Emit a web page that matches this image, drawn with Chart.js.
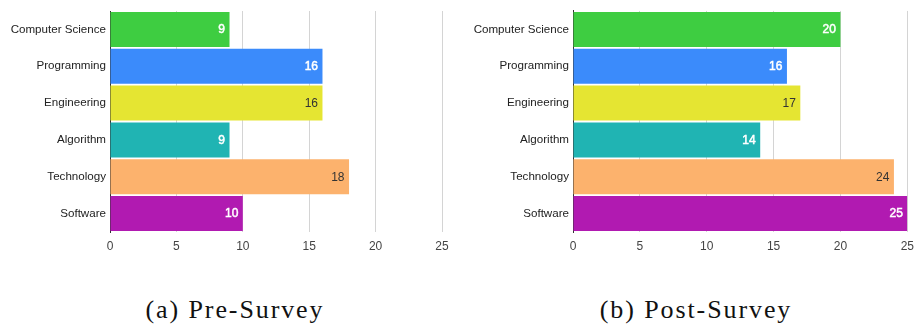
<!DOCTYPE html>
<html>
<head>
<meta charset="utf-8">
<script src="https://cdn.jsdelivr.net/npm/chart.js@4/dist/chart.umd.min.js"></script>
<style>
  html, body { margin: 0; padding: 0; background: #fff; }
  #wrap { position: relative; width: 915px; height: 331px; overflow: hidden; }
  .panel { position: absolute; top: 0; }
  .cap {
    position: absolute; top: 297px; width: 240px; text-align: center;
    font-family: "Liberation Serif", "Times New Roman", serif;
    font-size: 26px; line-height: 26px; color: #111; letter-spacing: 1.9px;
    white-space: nowrap;
  }
</style>
</head>
<body>
<div id="wrap">
  <div class="panel" style="left:0;width:460px;height:260px"><canvas id="pre" width="460" height="260"></canvas></div>
  <div class="panel" style="left:460px;width:455px;height:260px"><canvas id="post" width="455" height="260"></canvas></div>
  <div class="cap" style="left:115px">(a) Pre-Survey</div>
  <div class="cap" style="left:576px">(b) Post-Survey</div>
</div>
<script>
// Survey topics, one bar each
const categories = ['Computer Science', 'Programming', 'Engineering', 'Algorithm', 'Technology', 'Software'];
// Counts before and after
const preValues = [9, 16, 16, 9, 18, 10];
const postValues = [20, 16, 17, 14, 24, 25];
// Value axis ticks
const tickValues = [0, 5, 10, 15, 20, 25];

const barColors = ['#3ecd41', '#3b8bfb', '#e5e532', '#20b4b3', '#fcb26d', '#b11ab1'];
const labelColors = ['#ffffff', '#ffffff', '#333333', '#ffffff', '#333333', '#ffffff'];

// Writes each bar's value just inside its right end
const valueLabels = {
  id: 'valueLabels',
  afterDatasetsDraw(chart) {
    const ctx = chart.ctx;
    const ds = chart.data.datasets[0];
    const meta = chart.getDatasetMeta(0);
    ctx.save();
    ctx.font = '12px "Liberation Sans", Arial, sans-serif';
    ctx.textAlign = 'right';
    ctx.textBaseline = 'middle';
    ctx.lineWidth = 0.5;
    meta.data.forEach((bar, i) => {
      const txt = String(ds.data[i]);
      const x = bar.x - 4.5, y = bar.y + 0.5;
      ctx.fillStyle = labelColors[i];
      ctx.fillText(txt, x, y);
      if (labelColors[i] === '#ffffff') {
        // white text on strong colours gets a hairline to keep it legible
        ctx.strokeStyle = labelColors[i];
        ctx.strokeText(txt, x, y);
      }
    });
    ctx.restore();
  }
};

function makeChart(id, values, axisWidth, padTop, padRight) {
  return new Chart(document.getElementById(id), {
    type: 'bar',
    data: {
      labels: categories,
      datasets: [{
        data: values,
        backgroundColor: barColors,
        borderWidth: 0,
        barPercentage: 0.95,
        categoryPercentage: 1.0
      }]
    },
    options: {
      indexAxis: 'y',
      responsive: false,
      animation: false,
      devicePixelRatio: 1,
      layout: { padding: { top: padTop, right: padRight, left: 0, bottom: 0 } },
      plugins: { legend: { display: false }, tooltip: { enabled: false } },
      scales: {
        x: {
          min: 0,
          max: 25,
          afterBuildTicks(scale) { scale.ticks = tickValues.map(v => ({ value: v })); },
          afterFit(scale) { scale.height = 28; },
          grid: {
            drawTicks: true,
            tickLength: 7,
            tickColor: 'rgba(0,0,0,0)',
            color: c => (c.tick && c.tick.value === 0 ? '#333333' : '#d4d4d4'),
            lineWidth: 1
          },
          border: { display: false },
          ticks: {
            padding: 0,
            color: '#444444',
            font: { family: '"Liberation Sans", Arial, sans-serif', size: 12 }
          }
        },
        y: {
          afterFit(scale) { scale.width = axisWidth; },
          grid: { display: false, drawTicks: false },
          border: { display: true, color: '#333333', width: 1 },
          ticks: {
            padding: 4,
            color: '#222222',
            font: { family: '"Liberation Sans", Arial, sans-serif', size: 11.6 }
          }
        }
      }
    },
    plugins: [valueLabels]
  });
}

makeChart('pre', preValues, 110, 11, 18);
makeChart('post', postValues, 113, 9, 7.7);
</script>
</body>
</html>
